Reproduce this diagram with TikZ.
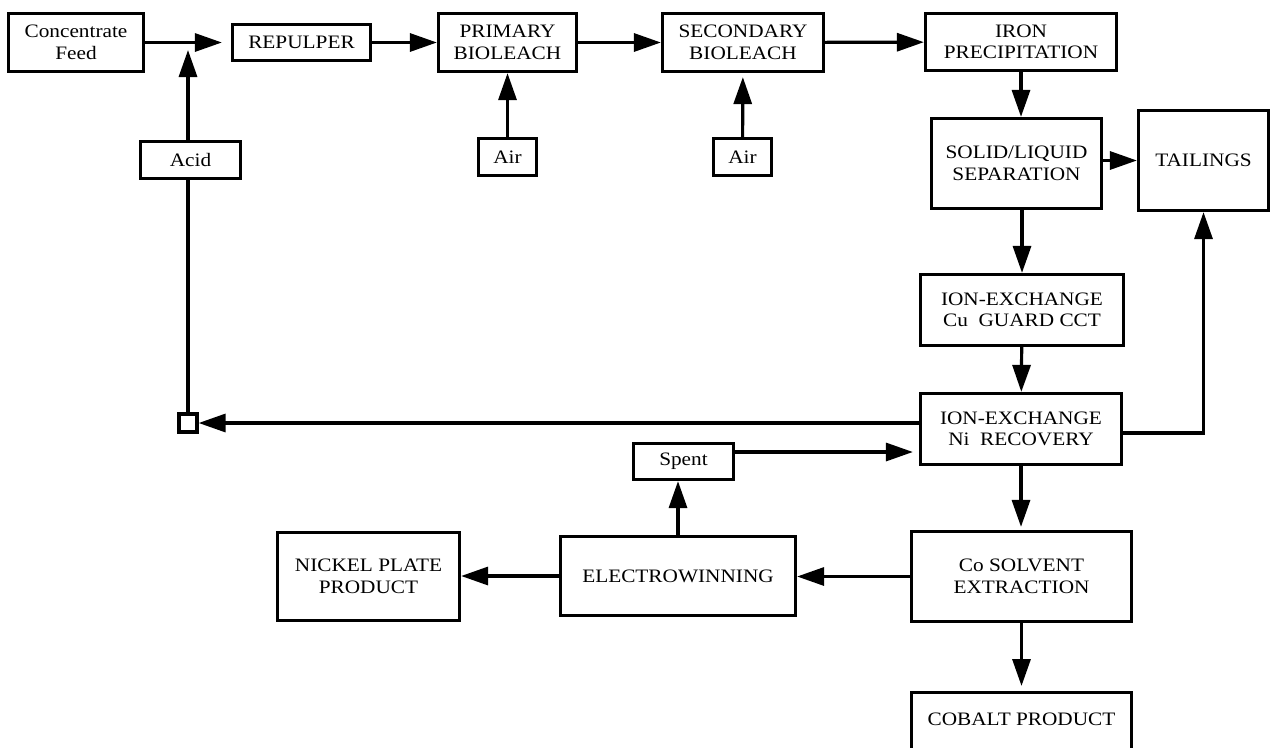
\documentclass[tikz,border=0pt]{standalone}
\usepackage{fontspec}
\setmainfont[FakeStretch=1.12]{Liberation Serif}
\usetikzlibrary{arrows.meta}

\begin{document}
\begin{tikzpicture}[
  x=1pt, y=-1pt,
  every node/.style = {draw, line width=3.2pt, align=center, inner sep=0pt, font=\fontsize{19}{21.5}\selectfont},
  flow/.style = {line width=3.2pt, -{Triangle[length=27pt, width=18pt]}},
  pipe/.style = {line width=3.2pt}
]
  \useasboundingbox (0,0) rectangle (1276,747);

  % top row
  \node[minimum width=135, minimum height=58] (feed) at (76,42.5) {Concentrate\\Feed};
  \node[minimum width=138, minimum height=36] (repulper) at (301.5,42.5) {REPULPER};
  \node[minimum width=138, minimum height=58] (primary) at (507.5,42.5) {PRIMARY\\BIOLEACH};
  \node[minimum width=161, minimum height=58] (secondary) at (743,42.5) {SECONDARY\\BIOLEACH};
  \node[minimum width=191, minimum height=57] (iron) at (1021,42) {IRON\\PRECIPITATION};

  % feeds
  \node[minimum width=100, minimum height=37] (acid) at (190.5,160) {Acid};
  \node[minimum width=58, minimum height=37] (airA) at (507.5,157) {Air};
  \node[minimum width=58, minimum height=37] (airB) at (742.5,157) {Air};
  \coordinate (mix) at (188,42);

  % right column
  \node[minimum width=170, minimum height=90] (solid) at (1016.5,163.5) {SOLID/LIQUID\\SEPARATION};
  \node[minimum width=130, minimum height=100] (tailings) at (1203.5,160.5) {TAILINGS};
  \node[minimum width=203, minimum height=71] (cuguard) at (1022,310) {ION-EXCHANGE\\Cu\ \ GUARD CCT};
  \node[minimum width=201, minimum height=71] (ni) at (1021,429) {ION-EXCHANGE\\Ni\ \ RECOVERY};
  \node[minimum width=220, minimum height=90] (co) at (1021.5,576.5) {Co SOLVENT\\EXTRACTION};
  \node[anchor=north, minimum width=220, text height=33pt, text depth=40pt] (cobalt) at (1021.5,691) {COBALT PRODUCT};

  % bottom row
  \node[minimum size=18] (sq) at (188,423) {};
  \node[minimum width=100, minimum height=36] (spent) at (683.5,461.5) {Spent};
  \node[minimum width=235, minimum height=79] (electro) at (678,576) {ELECTROWINNING};
  \node[minimum width=182, minimum height=88] (nickel) at (368.5,576.5) {NICKEL PLATE\\PRODUCT};

  \draw[flow, shorten >=9pt] (feed) -- (repulper);
  \draw[flow, shorten >=8pt] (acid.north -| mix) -- (mix);
  \draw[flow] (repulper) -- (primary);
  \draw[flow] (primary) -- (secondary);
  \draw[flow] (secondary) -- (iron);
  \draw[flow] (airA) -- (primary);
  \draw[flow, shorten >=4pt] (airB) -- (secondary);
  \draw[flow] (iron.south) -- (iron.south |- solid.north);
  \draw[flow] (solid.east |- tailings.west) -- (tailings.west);
  \draw[flow] (cuguard.north |- solid.south) -- (cuguard.north);
  \draw[flow] (cuguard) -- (ni);
  \draw[flow] ([yshift=-4pt]ni.east) -| (tailings.south);
  \draw[flow] (sq.east -| ni.west) -- (sq.east);
  \draw[pipe] (sq.north) -- (sq.north |- acid.south);
  \draw[flow, shorten >=3pt] (ni.south) -- (ni.south |- co.north);
  \draw[flow] (co.west) -- (co.west -| electro.east);
  \draw[flow] (electro.west) -- (electro.west -| nickel.east);
  \draw[flow] (electro.north) -- (electro.north |- spent.south);
  \draw[flow, shorten >=6pt] ([yshift=9.5pt]spent.east) -- ([yshift=9.5pt]spent.east -| ni.west);
  \draw[flow, shorten >=5pt] (co.south) -- (co.south |- cobalt.north);
\end{tikzpicture}
\end{document}
